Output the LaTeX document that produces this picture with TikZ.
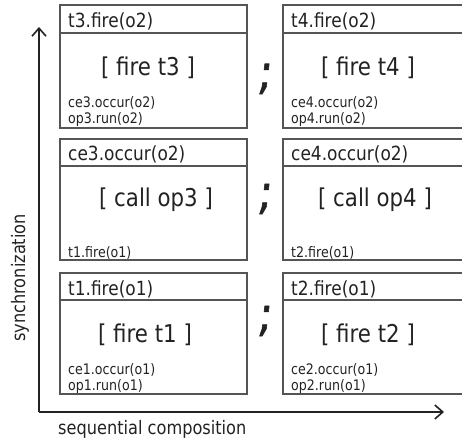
\documentclass[tikz,border=0pt]{standalone}
\usepackage{fontspec}
\setmainfont[FakeStretch=0.87]{DejaVu Sans}
\usetikzlibrary{arrows.meta}
\definecolor{txt}{HTML}{222222}
\definecolor{boxline}{HTML}{555555}
\tikzset{
  cellbox/.style={draw=boxline, line width=1.1pt},
  hdr/.style={anchor=west, inner sep=0pt, text=txt, font=\fontsize{19.5}{19.5}\selectfont},
  big/.style={anchor=center, inner sep=0pt, text=txt, font=\fontsize{24.5}{24.5}\selectfont},
  small/.style={anchor=west, inner sep=0pt, text=txt, font=\fontsize{14.5}{14.5}\selectfont},
  semi/.style={anchor=center, inner sep=0pt, text=txt, font=\fontsize{48}{48}\selectfont\addfontfeature{FakeBold=1.2,FakeSlant=0.12}},
  axis/.style={draw=txt, line width=1.8pt, -{Straight Barb[length=8pt,width=14pt,line width=1.6pt]}},
  axlabel/.style={inner sep=0pt, text=txt, font=\fontsize{18.6}{18.6}\selectfont}
}
\begin{document}
\begin{tikzpicture}[x=1pt,y=-1pt]
\useasboundingbox (0,0) rectangle (462,441);
\clip (0,0) rectangle (462,441);
% ---- top row
\draw[cellbox] (60,5) rectangle (247,128);
\draw[cellbox] (60,33) -- (247,33);
\draw[cellbox] (283,5) rectangle (470,128);
\draw[cellbox] (283,33) -- (470,33);
\node[hdr] (h3) at (68,21) {t3.fire(o2)};
\node[big] (m3) at (148,68) {[ fire t3 ]};
\node[small] (s3a) at (68,103) {ce3.occur(o2)};
\node[small] (s3b) at (68,120) {op3.run(o2)};
\node[hdr] (h4) at (291,21) {t4.fire(o2)};
\node[big] (m4) at (368,68) {[ fire t4 ]};
\node[small] (s4a) at (291,103) {ce4.occur(o2)};
\node[small] (s4b) at (291,120) {op4.run(o2)};
\node[semi] (sc1) at (264,79) {;};
% ---- middle row
\draw[cellbox] (60,139) rectangle (247,260);
\draw[cellbox] (60,166) -- (247,166);
\draw[cellbox] (283,139) rectangle (470,260);
\draw[cellbox] (283,166) -- (470,166);
\node[hdr] (h5) at (68,154) {ce3.occur(o2)};
\node[big] (m5) at (156,200) {[ call op3 ]};
\node[small] (s5) at (68,253) {t1.fire(o1)};
\node[hdr] (h6) at (291,154) {ce4.occur(o2)};
\node[big] (m6) at (375,200) {[ call op4 ]};
\node[small] (s6) at (291,253) {t2.fire(o1)};
\node[semi] (sc2) at (264,199) {;};
% ---- bottom row
\draw[cellbox] (60,273) rectangle (247,394);
\draw[cellbox] (60,300) -- (247,300);
\draw[cellbox] (283,273) rectangle (470,394);
\draw[cellbox] (283,300) -- (470,300);
\node[hdr] (h1) at (68,289) {t1.fire(o1)};
\node[big] (m1) at (145,335) {[ fire t1 ]};
\node[small] (s1a) at (68,370) {ce1.occur(o1)};
\node[small] (s1b) at (68,387) {op1.run(o1)};
\node[hdr] (h2) at (291,289) {t2.fire(o1)};
\node[big] (m2) at (368,335) {[ fire t2 ]};
\node[small] (s2a) at (291,370) {ce2.occur(o1)};
\node[small] (s2b) at (291,387) {op2.run(o1)};
\node[semi] (sc3) at (264,321) {;};
% ---- axes
\coordinate (o) at (39,412);
\coordinate (ytip) at (39,27);
\coordinate (xtip) at (444,412);
\draw[axis] (o) -- (ytip);
\draw[axis] (o) -- (xtip);
\node[axlabel, anchor=west] (xl) at (58,429) {sequential composition};
\node[axlabel, rotate=90] (yl) at (20,278) {synchronization};
\end{tikzpicture}
\end{document}
